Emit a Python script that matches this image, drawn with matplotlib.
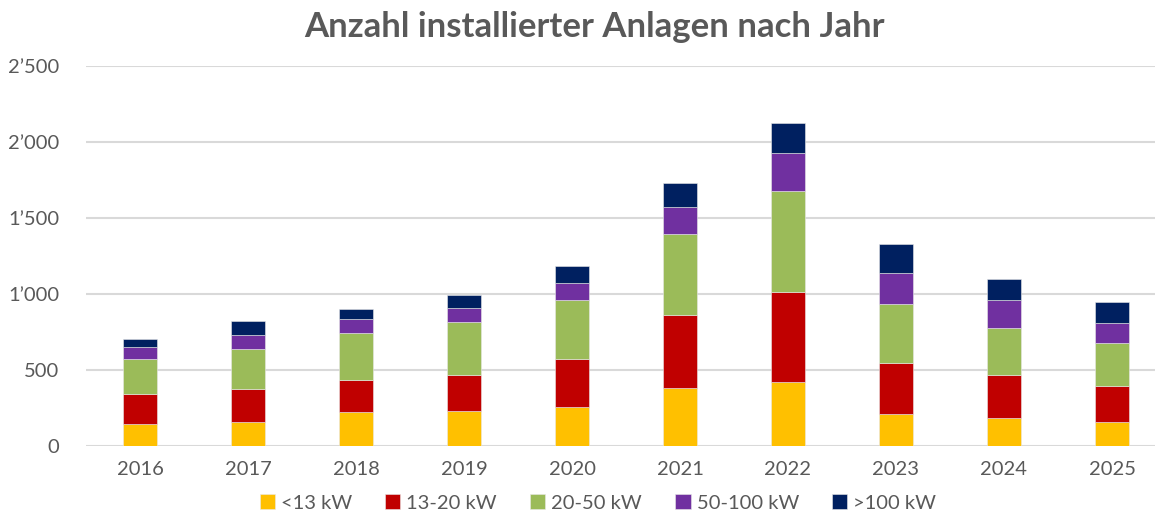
import matplotlib
matplotlib.use("Agg")
import matplotlib.pyplot as plt
import numpy as np
from matplotlib.ticker import FuncFormatter

years = ["2016", "2017", "2018", "2019", "2020", "2021", "2022", "2023", "2024", "2025"]
series_labels = ["<13 kW", "13-20 kW", "20-50 kW", "50-100 kW", ">100 kW"]
lt13 = [145, 158, 226, 232, 257, 382, 421, 213, 184, 156]
kw13_20 = [199, 215, 206, 233, 315, 482, 592, 335, 281, 237]
kw20_50 = [226, 263, 314, 351, 391, 531, 665, 386, 311, 287]
kw50_100 = [81, 92, 88, 92, 108, 180, 248, 202, 182, 129]
gt100 = [55, 92, 65, 85, 113, 157, 197, 193, 139, 136]

colors = ["#FFC000", "#C00000", "#9BBB59", "#7030A0", "#002060"]
TXT = "#595959"

plt.rcParams["font.family"] = ["Lato", "DejaVu Sans"]

fig = plt.figure(figsize=(11.55, 5.16), dpi=100)
ax = fig.add_axes([86 / 1155, 70 / 516, 1069 / 1155, 380 / 516])

x = np.arange(len(years))
bottom = np.zeros(len(years))
for vals, lab, c in zip([lt13, kw13_20, kw20_50, kw50_100, gt100], series_labels, colors):
    ax.bar(x, vals, 0.315, bottom=bottom, color=c, label=lab,
           edgecolor="#e8e8e8", linewidth=0.4, zorder=3)
    bottom += np.array(vals)

ax.set_xlim(-0.5, -0.5 + 1069 / 108)
ax.set_ylim(0, 2500)
ax.set_yticks(np.arange(0, 2501, 500))
ax.yaxis.set_major_formatter(FuncFormatter(lambda v, p: f"{int(v):,}".replace(",", "\u2019")))
ax.set_xticks(x)
ax.set_xticklabels(years)
ax.grid(axis="y", color="#d9d9d9", linewidth=1.5, zorder=0)
for s in ax.spines.values():
    s.set_visible(False)
ax.tick_params(axis="both", length=0, labelsize=14.5, labelcolor=TXT)
ax.tick_params(axis="y", pad=19)
ax.tick_params(axis="x", pad=11)

fig.text(0.515, 0.947, "Anzahl installierter Anlagen nach Jahr", ha="center", va="center",
         fontsize=25, fontweight="bold", color=TXT)

leg = ax.legend(loc="center", bbox_to_anchor=(598 / 1155, 13 / 516),
                bbox_transform=fig.transFigure, ncol=5, frameon=False,
                fontsize=14.5, handlelength=0.75, handleheight=0.75, handletextpad=0.3,
                columnspacing=1.65)
for t in leg.get_texts():
    t.set_color(TXT)

fig.savefig("out.png", dpi=100)
